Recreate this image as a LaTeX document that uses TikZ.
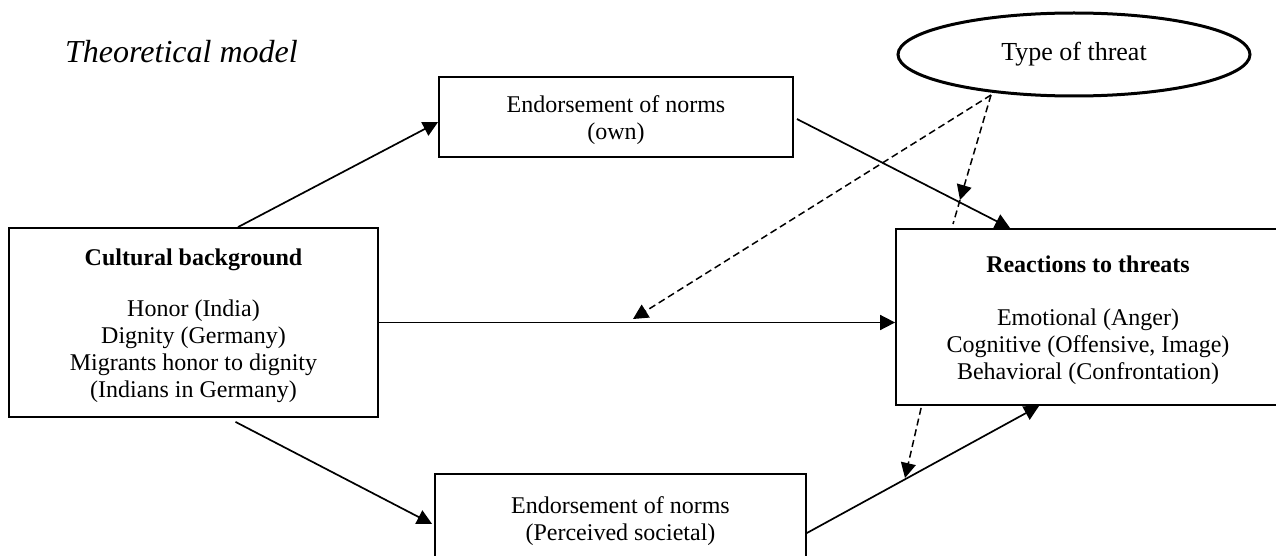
\documentclass[tikz,border=0pt]{standalone}
\usepackage{fontspec}
\setmainfont{Liberation Serif}
\usetikzlibrary{arrows.meta,calc,shapes.geometric}
% extra room above the first line of each box
\newcommand\boxlead{\rule{0pt}{24pt}}
\begin{document}
\begin{tikzpicture}[x=1pt,y=-1pt,
  box/.style={draw,line width=1.8pt,inner sep=0pt,align=center,
    font=\fontsize{24}{27}\selectfont},
  conn/.style={line width=1.7pt,-{Triangle[length=15pt,width=15pt]}},
  modline/.style={line width=1.5pt,dash pattern=on 7pt off 4pt},
  modarrow/.style={modline,-{Triangle[length=15pt,width=15pt]}}]
\useasboundingbox (0,0) rectangle (1276,556);

% title
\node[anchor=base west,inner sep=0pt,font=\fontsize{32}{36}\selectfont\itshape]
  (title) at (65,63) {Theoretical model};

% boxes
\node[box,minimum width=369pt,minimum height=189pt] (cb) at (193.5,322.5)
  {\boxlead\textbf{Cultural background}\\[24pt]Honor (India)\\Dignity (Germany)\\
   Migrants honor to dignity\\(Indians in Germany)};
\node[box,minimum width=354pt,minimum height=80pt] (own) at (616,117)
  {\boxlead Endorsement of norms\\(own)};
\node[box,minimum width=371pt,minimum height=88pt] (soc) at (620.5,518)
  {\boxlead Endorsement of norms\\(Perceived societal)};
\node[box,minimum width=384pt,minimum height=176pt] (rt) at (1088,317)
  {\boxlead\textbf{Reactions to threats}\\[26pt]Emotional (Anger)\\
   Cognitive (Offensive, Image)\\Behavioral (Confrontation)};

% moderator
\node[draw,ellipse,line width=3pt,minimum width=352pt,minimum height=83pt,
  inner sep=0pt,font=\fontsize{26}{29}\selectfont] (T) at (1074,54.5) {Type of threat};

% direct paths
\draw[conn] ($(cb.north)+(44.5,0)$) -- ($(own.west)+(0,5)$);
\draw[conn] ($(own.east)+(3,2)$) -- ($(rt.north west)+(115,0)$);
\draw[conn] (cb.east) -- (cb.east -| rt.west);
\draw[conn] ($(cb.south)+(42,4)$) -- ($(soc.west)+(-2,6)$);
\draw[conn] ($(soc.east)+(0,15)$) -- ($(rt.south west)+(144,0)$);

% moderation paths
\coordinate (tsrc) at (991,95);
\coordinate (m1) at (633,319);
\coordinate (m2) at (960,200);
\coordinate (m2end) at (953,224);
\coordinate (m3) at (905,478);
\draw[modarrow] (tsrc) -- (m1);
\draw[modarrow] (tsrc) -- (m2);
\draw[modline] (m2) -- (m2end);
\draw[modarrow] ($(rt.south west)+(26,2)$) -- (m3);
\end{tikzpicture}
\end{document}
